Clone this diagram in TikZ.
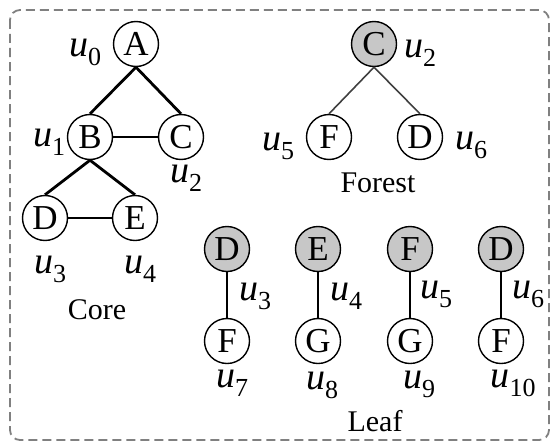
\documentclass[tikz,border=0pt]{standalone}
\usepackage{fontspec}
\setmainfont{Liberation Serif}
\newcommand\vlabel[1]{{\fontsize{38}{38}\selectfont\itshape u}\raisebox{-9pt}{\fontsize{26}{26}\selectfont #1}}
\begin{document}
\begin{tikzpicture}[x=1pt,y=-1pt,
  vert/.style={circle,draw=black,line width=1.4pt,minimum size=45pt,inner sep=0pt,
    font=\fontsize{35}{35}\selectfont},
  seed/.style={vert,fill=black!22},
  vlab/.style={inner sep=0pt},
  caption/.style={inner sep=0pt,font=\fontsize{30}{30}\selectfont},
  core/.style={line width=2.8pt},
  link/.style={line width=1.6pt},
  flink/.style={line width=1.6pt,draw=black!75}]
\useasboundingbox (0,0) rectangle (553,444);
\draw[gray,line width=1.8pt,dash pattern=on 9pt off 5pt,rounded corners=10pt]
  (10,10) rectangle (549,440);

% Core
\node[vert] (A) at (136,44) {A};
\node[vert] (B) at (90,137) {B};
\node[vert] (C) at (181,137) {C};
\node[vert] (D) at (45,218) {D};
\node[vert] (E) at (135,218) {E};
\draw[core] (A.south) -- (B.north);
\draw[core] (A.south) -- (C.north);
\draw[core] (B.south) -- (D.north);
\draw[core] (B.south) -- (E.north);
\draw[link] (B) -- (C);
\draw[link] (D) -- (E);
\node[vlab] (l0) at (85,52) {\vlabel{0}};
\node[vlab] (l1) at (49,142) {\vlabel{1}};
\node[vlab] (l2) at (186,178) {\vlabel{2}};
\node[vlab] (l3) at (50,269) {\vlabel{3}};
\node[vlab] (l4) at (140,269) {\vlabel{4}};
\node[caption] (core) at (97,310) {Core};

% Forest
\node[seed] (fC) at (374,44) {C};
\node[vert] (fF) at (329,137) {F};
\node[vert] (fD) at (420,137) {D};
\draw[flink] (fC.south) -- (fF.north);
\draw[flink] (fC.south) -- (fD.north);
\node[vlab] (fl2) at (420,53) {\vlabel{2}};
\node[vlab] (fl5) at (278,146) {\vlabel{5}};
\node[vlab] (fl6) at (471,145) {\vlabel{6}};
\node[caption] (forest) at (378,183) {Forest};

% Leaf
\node[seed] (t1) at (227,249) {D};
\node[vert] (b1) at (227,341) {F};
\node[seed] (t2) at (318,249) {E};
\node[vert] (b2) at (318,341) {G};
\node[seed] (t3) at (410,249) {F};
\node[vert] (b3) at (410,341) {G};
\node[seed] (t4) at (501,249) {D};
\node[vert] (b4) at (501,341) {F};
\draw[link] (t1) -- (b1);
\draw[link] (t2) -- (b2);
\draw[link] (t3) -- (b3);
\draw[link] (t4) -- (b4);
\node[vlab] (ll3) at (255,296) {\vlabel{3}};
\node[vlab] (ll4) at (346,296) {\vlabel{4}};
\node[vlab] (ll5) at (436,294) {\vlabel{5}};
\node[vlab] (ll6) at (528,294) {\vlabel{6}};
\node[vlab] (ll7) at (232,383) {\vlabel{7}};
\node[vlab] (ll8) at (322,385) {\vlabel{8}};
\node[vlab] (ll9) at (419,384) {\vlabel{9}};
\node[vlab] (ll10) at (513,383) {\vlabel{10}};
\node[caption] (leaf) at (375,421) {Leaf};
\end{tikzpicture}
\end{document}
